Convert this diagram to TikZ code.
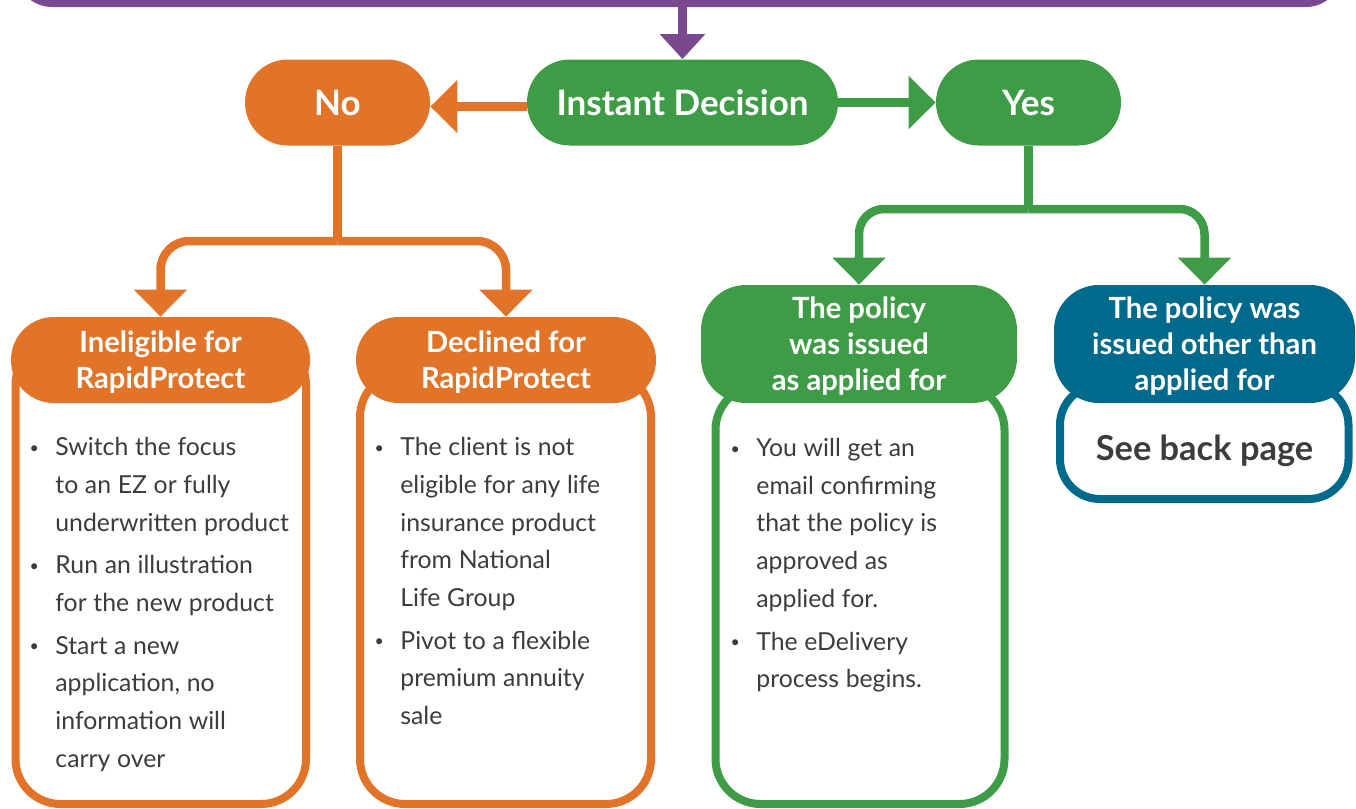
\documentclass[tikz,border=0pt]{standalone}
\usepackage{fontspec}
\setmainfont{Lato}
\usetikzlibrary{arrows.meta}

\definecolor{nlorange}{RGB}{225,116,41}
\definecolor{nlgreen}{RGB}{62,156,71}
\definecolor{nlpurple}{RGB}{122,72,143}
\definecolor{nlteal}{RGB}{0,106,141}
\definecolor{nltext}{RGB}{60,60,60}

% bulleted entry: the bullet hangs to the left of the text column
\newcommand\bitem[1]{\leavevmode\llap{\raisebox{1.2pt}{\fontsize{8}{8}\selectfont\textbullet}\hspace{8.2pt}}#1\par}
\newcommand\bodyfont{\fontsize{12.4}{18.85}\selectfont\setlength{\parskip}{2.5pt}}

\begin{document}
\begin{tikzpicture}[x=0.5pt,y=-0.5pt,
  link/.style={line width=4.25pt},
  tip/.style={-{Triangle[length=13.5pt,width=26pt]}},
  pill/.style={rounded corners=21.4pt, minimum height=43pt, inner sep=0pt,
    text=white, font=\bfseries\fontsize{17.5}{20}\selectfont, align=center},
  hdr/.style={inner sep=0pt, text depth=0pt, text=white, font=\bfseries\fontsize{14.6}{18}\selectfont, align=center},
  bodybox/.style={draw, line width=4pt, fill=white, inner sep=0pt},
  bodytext/.style={anchor=base west, inner sep=0pt, text width=140pt, text=nltext}]

\useasboundingbox (0,0) rectangle (1356,809);
\clip (0,0) rectangle (1356,809);

% box above the decision, mostly outside the page
\node[draw=nlpurple, line width=4pt, rounded corners=16pt, minimum width=659pt,
      minimum height=100pt, anchor=south, inner sep=0pt] (top) at (679,7) {};

% decision row
\node[pill, fill=nlorange, minimum width=92.5pt] (no) at (337.5,102.5) {No};
\node[pill, fill=nlgreen, minimum width=155.5pt] (inst) at (682.5,102.5) {Instant Decision};
\node[pill, fill=nlgreen, minimum width=92.5pt] (yes) at (1028.5,102.5) {Yes};

% outcome boxes
\node[bodybox, draw=nlorange, rounded corners=22.5pt, minimum width=145.25pt, minimum height=232pt] (inelbody) at (160.75,572) {};
\node[bodybox, draw=nlorange, rounded corners=22.5pt, minimum width=145.5pt, minimum height=216pt] (declbody) at (505.5,588) {};
\node[bodybox, draw=nlgreen, rounded corners=22.5pt, minimum width=144.5pt, minimum height=209.5pt] (issbody) at (860,594.5) {};
\node[bodybox, draw=nlteal, rounded corners=20pt, minimum width=144.25pt, minimum height=57pt] (othbody) at (1204.25,442) {};

\node[hdr, fill=nlorange, rounded corners=21.4pt, minimum width=149.5pt, minimum height=43pt] (inel) at (160.5,360) {Ineligible for\\RapidProtect};
\node[hdr, fill=nlorange, rounded corners=21.4pt, minimum width=150pt, minimum height=43pt] (decl) at (506,360) {Declined for\\RapidProtect};
\node[hdr, fill=nlgreen, rounded corners=22.5pt, minimum width=158pt, minimum height=59pt] (issued) at (859,344) {The policy\\was issued\\as applied for};
\node[hdr, fill=nlteal, rounded corners=22.5pt, minimum width=150.5pt, minimum height=59pt] (other) at (1204.5,344) {The policy was\\issued other than\\applied for};

% connectors
\draw[link, nlpurple, -{Triangle[length=12.5pt,width=22pt]}] (inst |- top.south) -- (inst.north);
\draw[link, nlorange, tip] ([yshift=-2pt]inst.west) -- ([yshift=-2pt]no.east);
\draw[link, nlgreen, tip] (inst.east) -- (yes.west);

\coordinate (nj) at (no.south |- 0,241);
\draw[link, nlorange] (no.south) -- (nj);
\draw[link, nlorange, tip, rounded corners=14.5pt] (nj) -| (inel.north);
\draw[link, nlorange, tip, rounded corners=14.5pt] (nj) -| (decl.north);

\coordinate (yj) at (yes.south |- 0,209);
\draw[link, nlgreen] (yes.south) -- (yj);
\draw[link, nlgreen, tip, rounded corners=12.5pt] (yj) -| (issued.north);
\draw[link, nlgreen, tip, rounded corners=12.5pt] (yj) -| (other.north);

% box contents
\node[bodytext] (ineltext) at (55,455.7) {\bodyfont
  \bitem{Switch the focus\\to an EZ or fully\\underwritten product}
  \bitem{Run an illustration\\for the new product}
  \bitem{Start a new\\application, no\\information will\\carry over}};
\node[bodytext] (decltext) at (400,455.7) {\bodyfont
  \bitem{The client is not\\eligible for any life\\insurance product\\from National\\Life Group}
  \bitem{Pivot to a flexible\\premium annuity\\sale}};
\node[bodytext] (isstext) at (756,456.5) {\bodyfont
  \bitem{You will get an\\email confirming\\that the policy is\\approved as\\applied for.}
  \bitem{The eDelivery\\process begins.}};
\node[anchor=base, inner sep=0pt, text=nltext, font=\bfseries\fontsize{17.2}{18}\selectfont] (seeback) at (1204.5,460.7) {See back page};

\end{tikzpicture}
\end{document}
